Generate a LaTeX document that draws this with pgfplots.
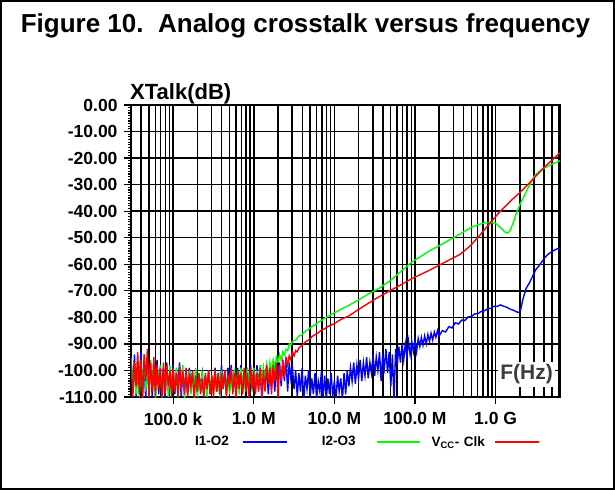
\documentclass[border=0pt]{standalone}
\usepackage{pgfplots}
\pgfplotsset{compat=1.18}
\usepackage{pgfplotstable}
\usepackage{fontspec}
\setmainfont{Liberation Sans}
\definecolor{fhz}{RGB}{60,60,60}

% noise floor, shared frequencies: f  blue  green  red
\pgfplotstableread{
f b g r
3.000e4 -96 -97 -95
3.162e4 -108 -104 -110
3.311e4 -94 -101 -97
3.467e4 -110 -109 -106
3.631e4 -99 -95 -93
3.802e4 -105 -110 -109
3.981e4 -93 -98 -96
4.169e4 -109 -106 -111
4.365e4 -97 -94 -94
4.571e4 -111 -108 -104
4.786e4 -95 -100 -92
5.012e4 -104 -110 -110
5.248e4 -98 -96 -97
5.495e4 -110 -105 -108
5.754e4 -100 -97 -95
6.026e4 -107 -111 -110
6.310e4 -96 -99 -98
6.607e4 -109 -104 -107
6.918e4 -101 -98 -99
7.244e4 -106 -110 -111
7.586e4 -99 -102 -97
7.943e4 -111 -107 -109
8.318e4 -97 -99 -98
8.710e4 -108 -110 -106
9.120e4 -102 -98 -100
9.550e4 -106 -109 -110
1.000e5 -98 -100 -99
1.047e5 -109 -107 -108
1.096e5 -101 -99 -101
1.148e5 -105 -110 -110
1.202e5 -97 -102 -98
1.259e5 -110 -106 -107
1.318e5 -100 -98 -100
1.380e5 -107 -111 -109
1.445e5 -102 -101 -99
1.514e5 -109 -105 -110
1.585e5 -99 -100 -101
1.660e5 -106 -109 -106
1.738e5 -101 -103 -100
1.820e5 -110 -107 -111
1.905e5 -100 -99 -102
1.995e5 -108 -110 -108
2.089e5 -103 -102 -101
2.188e5 -105 -108 -109
2.291e5 -101 -101 -103
2.399e5 -110 -106 -110
2.512e5 -102 -104 -101
2.630e5 -107 -110 -107
2.754e5 -100 -101 -100
2.884e5 -109 -107 -109
3.020e5 -103 -103 -102
3.162e5 -106 -109 -110
3.311e5 -99 -100 -100
3.467e5 -108 -106 -108
3.631e5 -101 -102 -101
3.802e5 -110 -110 -109
3.981e5 -98 -100 -101
4.169e5 -107 -107 -107
4.365e5 -100 -101 -100
4.571e5 -109 -108 -110
4.786e5 -99 -102 -102
5.012e5 -105 -109 -106
5.248e5 -98 -100 -99
5.495e5 -108 -106 -109
5.754e5 -100 -101 -101
6.026e5 -110 -108 -110
6.310e5 -99 -100 -100
6.607e5 -106 -109 -107
6.918e5 -98 -99 -101
7.244e5 -109 -105 -109
7.586e5 -100 -101 -99
7.943e5 -107 -108 -108
8.318e5 -99 -99 -101
8.710e5 -110 -107 -110
9.120e5 -98 -100 -99
9.550e5 -106 -108 -107
1.000e6 -99 -99 -100
1.047e6 -108 -106 -109
1.096e6 -98 -100 -101
1.148e6 -106 -107 -108
1.202e6 -99 -98 -99
1.259e6 -110 -105 -110
1.318e6 -100 -99 -100
1.380e6 -107 -104 -108
1.445e6 -98 -98 -98
1.514e6 -109 -103 -105
1.585e6 -100 -97 -99
1.660e6 -106 -101 -109
1.738e6 -98 -96 -98
1.820e6 -108 -99 -104
1.905e6 -99 -95 -97
1.995e6 -105 -97 -110
}\noise

\pgfplotstableread{
f v
1.995e6 -105
2.089e6 -97
2.188e6 -106
2.291e6 -96
2.399e6 -104
2.512e6 -95
2.630e6 -108
2.754e6 -97
2.884e6 -103
3.020e6 -99
3.162e6 -107
3.311e6 -100
3.467e6 -110
3.631e6 -101
3.802e6 -108
3.981e6 -99
4.169e6 -111
4.365e6 -102
4.571e6 -107
4.786e6 -100
5.012e6 -110
5.248e6 -103
5.495e6 -109
5.754e6 -101
6.026e6 -111
6.310e6 -104
6.607e6 -108
6.918e6 -100
7.244e6 -110
7.586e6 -102
7.943e6 -111
8.318e6 -103
8.710e6 -109
9.120e6 -101
9.550e6 -110
1.000e7 -104
1.047e7 -111
1.096e7 -102
1.148e7 -108
1.202e7 -103
1.259e7 -111
1.318e7 -101
1.380e7 -109
1.445e7 -100
1.514e7 -106
1.585e7 -99
1.660e7 -104
1.738e7 -97
1.820e7 -105
1.905e7 -98
1.995e7 -103
2.089e7 -96
2.188e7 -104
2.291e7 -97
2.399e7 -102
2.512e7 -95
2.630e7 -103
2.754e7 -97
2.884e7 -101
3.020e7 -94
3.162e7 -102
3.311e7 -95
3.467e7 -100
3.631e7 -93
3.802e7 -104
3.981e7 -94
4.169e7 -99
4.365e7 -92
4.571e7 -101
4.786e7 -93
5.012e7 -106
5.248e7 -94
5.495e7 -111
5.754e7 -92
6.026e7 -98
6.310e7 -91
6.607e7 -97
6.918e7 -90
7.244e7 -96
7.586e7 -90
7.943e7 -95
8.318e7 -89
8.710e7 -94
9.120e7 -89
9.550e7 -93
1.000e8 -89
1.047e8 -93
1.096e8 -88
1.148e8 -91
1.202e8 -87.5
1.259e8 -90.5
1.318e8 -87
1.380e8 -90
1.445e8 -86.5
1.514e8 -89
1.585e8 -86
1.660e8 -88.5
1.738e8 -85.5
1.820e8 -87.5
1.905e8 -85
1.995e8 -87
2.188e8 -85
2.399e8 -85.5
2.630e8 -83.5
2.884e8 -84
3.162e8 -82
3.467e8 -82.5
3.802e8 -81
4.169e8 -81.2
4.571e8 -79.8
5.012e8 -79.7
5.495e8 -78.7
6.026e8 -78.6
6.607e8 -77.8
7.244e8 -77.5
7.943e8 -76.8
8.710e8 -76.6
9.550e8 -75.8
1.047e9 -75.9
1.148e9 -75.3
1.259e9 -75.8
1.380e9 -76.2
1.514e9 -76.9
1.660e9 -77.3
1.820e9 -77.9
1.950e9 -78.2
2.050e9 -77
2.188e9 -73
2.399e9 -69
2.630e9 -67
2.884e9 -64.5
3.162e9 -62
3.467e9 -60.5
3.802e9 -58.8
4.169e9 -57.2
4.571e9 -56
5.012e9 -55.2
5.495e9 -54.5
6.310e9 -53.8
}\bluetail

\pgfplotstableread{
f v
1.995e6 -97
2.089e6 -94
2.188e6 -96
2.291e6 -93
2.399e6 -94
2.512e6 -92
2.630e6 -92.5
2.754e6 -90
2.884e6 -90.5
3.020e6 -89
3.311e6 -88.5
3.631e6 -87
3.981e6 -86.5
4.365e6 -85.2
4.786e6 -84.5
5.248e6 -83.5
5.754e6 -82.8
6.310e6 -81.8
6.918e6 -81.2
7.586e6 -80.3
8.318e6 -79.6
9.120e6 -79
1.0e7 -78.3
1.2e7 -77
1.5e7 -75.5
2.0e7 -73.4
2.7e7 -71
3.6e7 -69
5.0e7 -66
7.0e7 -62.2
9.3e7 -59
1.5e8 -55
2.46e8 -51.5
3.6e8 -48.6
5.2e8 -45.8
7.0e8 -44.5
8.5e8 -44.2
1.0e9 -44.6
1.15e9 -46.2
1.3e9 -47.8
1.4e9 -48.3
1.5e9 -47.5
1.65e9 -44.5
1.8e9 -41
2.0e9 -37.5
2.2e9 -35
2.6e9 -30.5
3.0e9 -27
3.4e9 -25.2
4.0e9 -23.8
5.0e9 -22.3
6.3e9 -21
}\greentail

\pgfplotstableread{
f v
1.995e6 -110
2.089e6 -98
2.188e6 -104
2.291e6 -97
2.399e6 -101
2.512e6 -95.5
2.630e6 -98
2.754e6 -94.5
2.884e6 -96
3.020e6 -93
3.162e6 -94.5
3.311e6 -92.5
3.467e6 -93
3.631e6 -91.5
3.981e6 -90.5
4.365e6 -89.3
4.786e6 -88.5
5.248e6 -87.3
5.754e6 -86.5
6.310e6 -85.8
6.918e6 -84.8
7.586e6 -84.3
8.318e6 -83.4
9.120e6 -82.9
1.0e7 -82.3
1.2e7 -80.8
1.5e7 -79.5
2.0e7 -77
2.7e7 -74.5
3.6e7 -72.2
5.0e7 -69.8
7.0e7 -67.4
9.3e7 -65.3
1.5e8 -62.3
2.5e8 -58.8
3.6e8 -56.3
4.8e8 -53.2
6.4e8 -49
8.8e8 -44
1.13e9 -40.2
1.58e9 -35.8
2.0e9 -33
2.6e9 -29.5
3.2e9 -26.6
4.0e9 -23.5
5.0e9 -20.8
6.3e9 -18
}\redtail

\begin{document}
\begin{tikzpicture}
\useasboundingbox (0pt,0pt) rectangle (615pt,490pt);
\draw[line width=2pt] (1pt,1pt) rectangle (614pt,489pt);
\node[anchor=base, font=\fontsize{26}{30}\selectfont\bfseries, inner sep=0pt] at (305.5pt,457pt) {Figure 10.\ \ Analog crosstalk versus frequency};
\node[anchor=base west, font=\fontsize{22}{26}\selectfont\bfseries, inner sep=0pt] at (130pt,390pt) {XTalk(dB)};
\begin{axis}[
  at={(131pt,93pt)}, anchor=south west, scale only axis,
  width=429pt, height=292pt,
  xmode=log, xmin=3e4, xmax=6.3e9, ymin=-110, ymax=0,
  xtick={1e5,1e6,1e7,1e8,1e9},
  xticklabels={100.0 k,1.0 M,10.0 M,100.0 M,1.0 G},
  xminorticks=false,
  extra x ticks={4e4,5e4,6e4,7e4,8e4,9e4,2e5,3e5,4e5,5e5,6e5,7e5,8e5,9e5,2e6,3e6,4e6,5e6,6e6,7e6,8e6,9e6,2e7,3e7,4e7,5e7,6e7,7e7,8e7,9e7,2e8,3e8,4e8,5e8,6e8,7e8,8e8,9e8,2e9,3e9,4e9,5e9,6e9},
  extra x tick labels={},
  extra x tick style={grid=major, major tick length=0pt},
  ytick={-110,-100,-90,-80,-70,-60,-50,-40,-30,-20,-10,0},
  yticklabels={-110.00,-100.00,-90.00,-80.00,-70.00,-60.00,-50.00,-40.00,-30.00,-20.00,-10.00,0.00},
  minor y tick num=9,
  tick align=outside, tick pos=left,
  major tick length=7pt, minor tick length=3pt,
  tick style={black, line width=1.2pt},
  xmajorgrids, ymajorgrids,
  major grid style={black, line width=1.5pt},
  axis line style={line width=1.6pt},
  tick label style={font=\fontsize{17.5}{20}\selectfont\bfseries},
  xticklabel style={yshift=-5pt},
  yticklabel style={xshift=-3pt},
  legend columns=3, legend plot pos=right,
  legend style={at={(0.149,-0.154)}, anchor=west, draw=none, fill=none,
    inner sep=0pt, column sep=0pt,
    nodes={inner sep=0pt, text depth=0.15em, font=\fontsize{13.5}{15}\selectfont\bfseries}},
]
\addplot[blue, line width=1.4pt, legend image code/.code={\draw[blue, line width=1.5pt] (0pt,0pt) -- (44pt,0pt); \path[draw=none] (0pt,0pt) -- (79pt,0pt);}] table[x=f, y=b] {\noise};
\addlegendentry[text width=47pt, align=left]{I1-O2}
\addplot[blue, line width=1.4pt, forget plot] table[x=f, y=v] {\bluetail};
\addplot[green, line width=1.4pt, legend image code/.code={\draw[green, line width=1.5pt] (0pt,0pt) -- (43pt,0pt); \path[draw=none] (0pt,0pt) -- (55pt,0pt);}] table[x=f, y=g] {\noise};
\addlegendentry[text width=54pt, align=left]{I2-O3}
\addplot[green, line width=1.4pt, forget plot] table[x=f, y=v] {\greentail};
\addplot[red, line width=1.4pt, legend image code/.code={\draw[red, line width=1.5pt] (0pt,0pt) -- (44pt,0pt);}] table[x=f, y=r] {\noise};
\addlegendentry[text width=63pt, align=left]{V\textsubscript{CC}- Clk}
\addplot[red, line width=1.4pt, forget plot] table[x=f, y=v] {\redtail};
\node[fill=white, inner xsep=2pt, inner ysep=2.5pt, text=fhz, font=\fontsize{21}{24}\selectfont\bfseries] at (rel axis cs:0.922,0.077) {F(Hz)};
\end{axis}
\end{tikzpicture}
\end{document}
